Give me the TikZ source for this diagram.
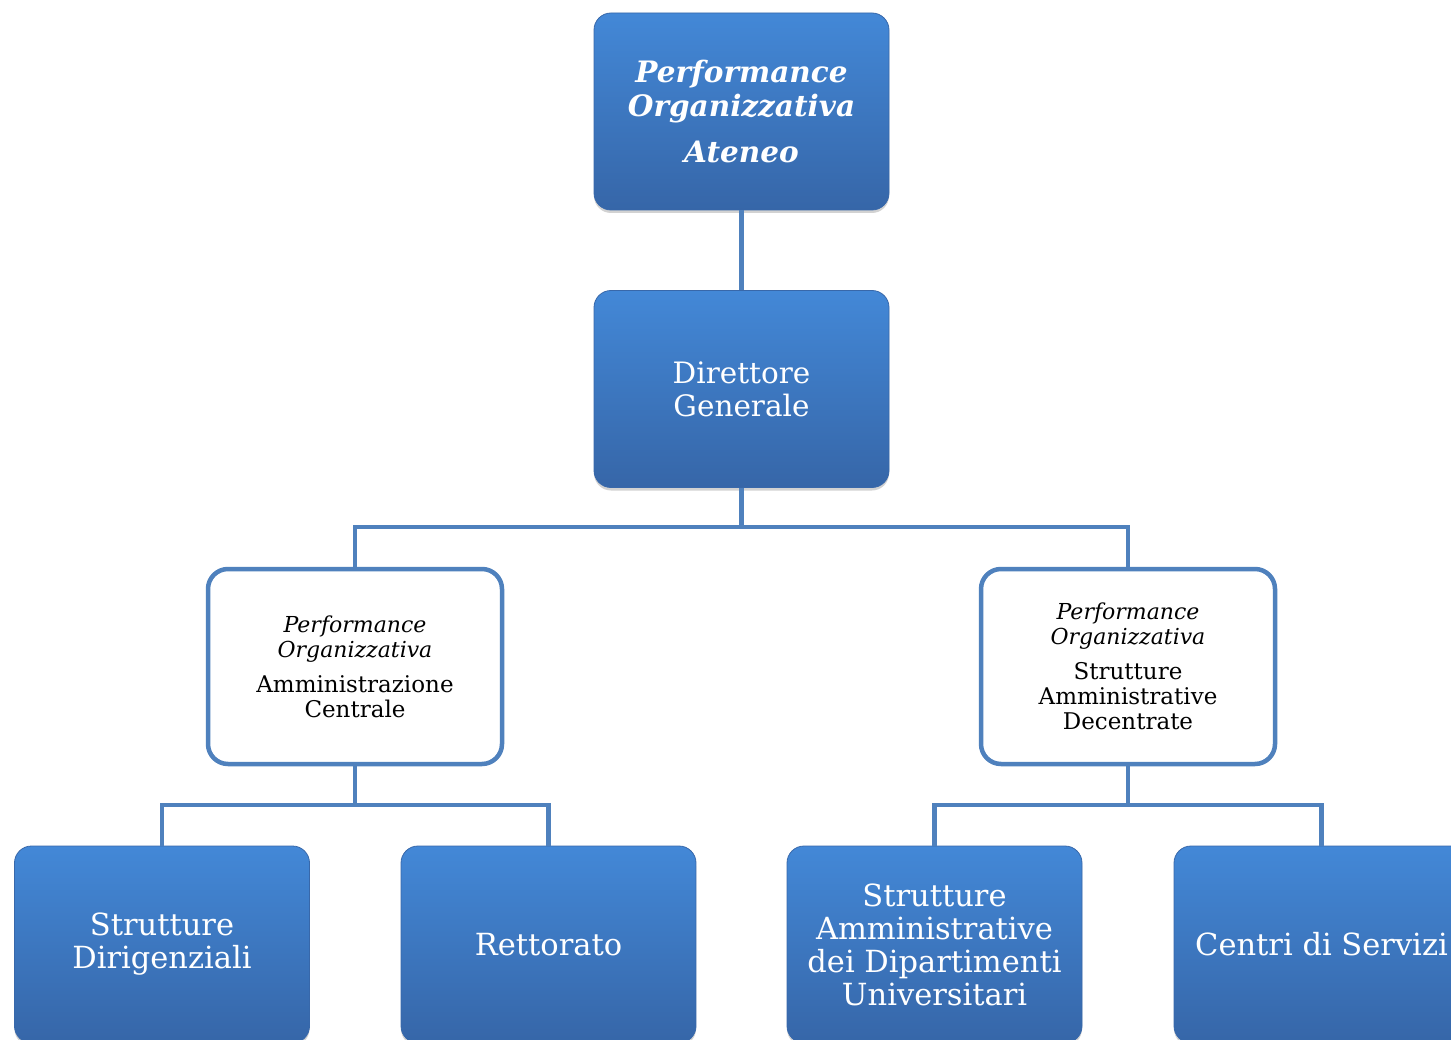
\documentclass[tikz,border=0pt]{standalone}
\usepackage{fontspec}
\setmainfont{DejaVu Serif}
\usetikzlibrary{shadows}
\definecolor{linec}{RGB}{79,129,189}
\definecolor{btop}{RGB}{67,136,215}
\definecolor{bbot}{RGB}{54,102,168}
\definecolor{bedge}{RGB}{56,104,170}
\tikzset{
  bluebox/.style={rectangle, rounded corners=17pt, minimum width=295pt, minimum height=197pt,
    inner sep=0pt, align=center, text=white, top color=btop, bottom color=bbot, draw=bedge, line width=0.8pt,
    drop shadow={opacity=0.35, shadow xshift=0pt, shadow yshift=-3pt}},
  whitebox/.style={rectangle, rounded corners=20pt, minimum width=294pt, minimum height=195pt,
    inner sep=0pt, align=center, fill=white, draw=linec, line width=4.5pt},
  conn/.style={draw=linec, line width=4.5pt}
}
\begin{document}
\begin{tikzpicture}[x=1pt,y=-1pt]
\fill[white] (0,0) rectangle (1451,1040);
\useasboundingbox (0,0) rectangle (1451,1040);
\clip (0,0) rectangle (1451,1040);
\node[bluebox, font=\fontsize{29.5}{34}\selectfont\bfseries\itshape] (top) at (741.5,111.5) {Performance\\Organizzativa\\[12pt]Ateneo};
\node[bluebox, font=\fontsize{29.5}{33}\selectfont] (dg) at (741.5,389) {Direttore\\Generale};
\node[whitebox, font=\fontsize{23}{25}\selectfont] (wl) at (355,666.5) {{\fontsize{22}{25}\selectfont\itshape Performance}\\{\fontsize{22}{25}\selectfont\itshape Organizzativa}\\[10pt]Amministrazione\\Centrale};
\node[whitebox, font=\fontsize{23}{25}\selectfont] (wr) at (1128,666.5) {{\fontsize{22}{25}\selectfont\itshape Performance}\\{\fontsize{22}{25}\selectfont\itshape Organizzativa}\\[10pt]Strutture\\Amministrative\\Decentrate};
\node[bluebox, font=\fontsize{30.5}{33}\selectfont] (b1) at (162,944.5) {Strutture\\Dirigenziali};
\node[bluebox, font=\fontsize{30.5}{33}\selectfont] (b2) at (548.5,944.5) {Rettorato};
\node[bluebox, font=\fontsize{30.5}{33}\selectfont] (b3) at (934.5,944.5) {Strutture\\Amministrative\\dei Dipartimenti\\Universitari};
\node[bluebox, font=\fontsize{30.5}{33}\selectfont] (b4) at (1321.5,944.5) {Centri di Servizi};
\coordinate (j1) at (741.5,527);
\coordinate (j2) at (355,805);
\coordinate (j3) at (1128,805);
\draw[conn] (top.south) -- (dg.north);
\draw[conn] (dg.south) -- (j1) -| (wl.north);
\draw[conn] (j1) -| (wr.north);
\draw[conn] (wl.south) -- (j2) -| (b1.north);
\draw[conn] (j2) -| (b2.north);
\draw[conn] (wr.south) -- (j3) -| (b3.north);
\draw[conn] (j3) -| (b4.north);
\end{tikzpicture}
\end{document}
